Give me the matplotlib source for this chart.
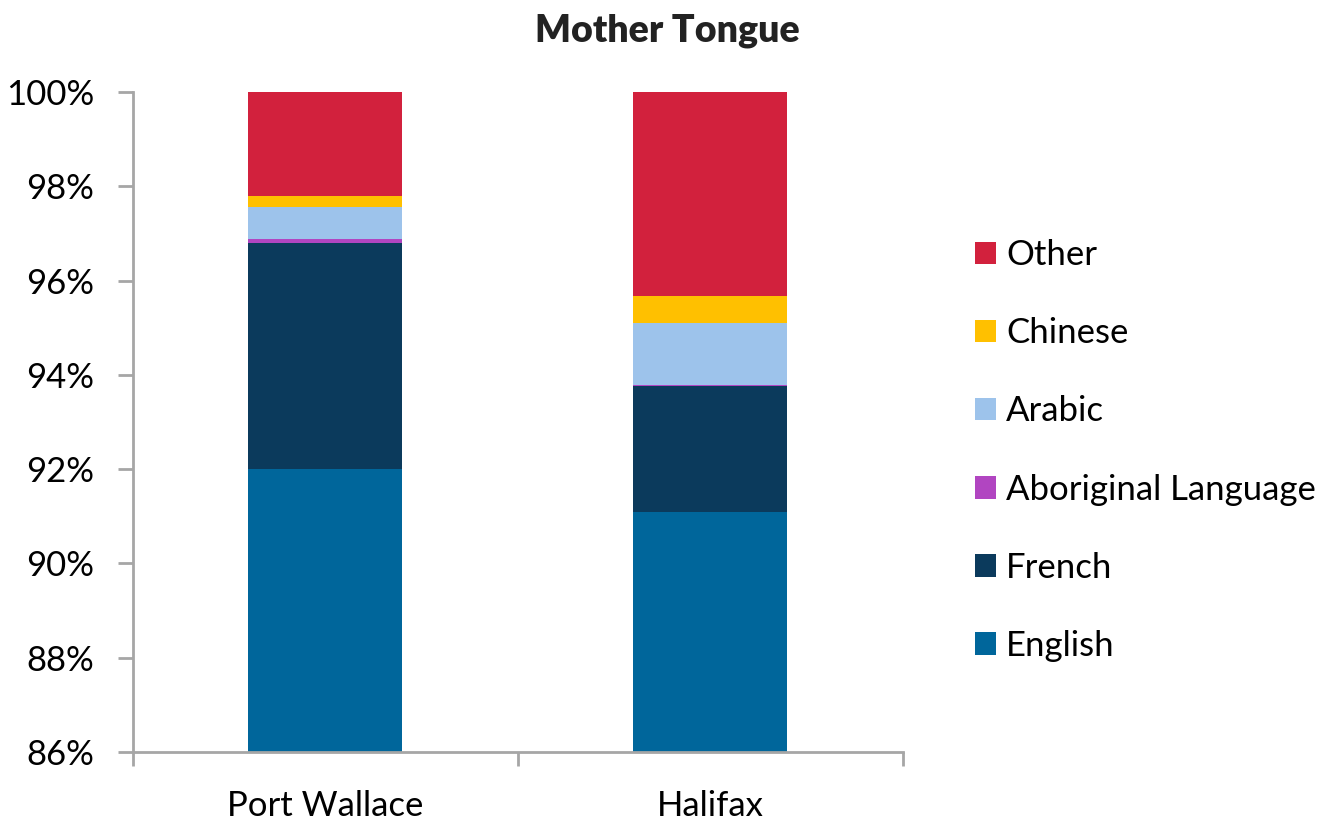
import numpy as np
import matplotlib.pyplot as plt

# data (percent of population)
places = ["Port Wallace", "Halifax"]
languages = ["English", "French", "Aboriginal Language", "Arabic", "Chinese", "Other"]
english = [92.00, 91.09]
french = [4.80, 2.67]
aboriginal = [0.09, 0.02]
arabic = [0.66, 1.31]
chinese = [0.24, 0.58]
other = [2.21, 4.33]
colors = ["#00669B", "#0B3A5C", "#B145C1", "#9DC3EB", "#FFC000", "#D2213D"]

plt.rcParams['font.family'] = ['Lato', 'DejaVu Sans']

fig = plt.figure(figsize=(13.35, 8.19), dpi=100)
ax = fig.add_axes([0.0996, 0.0818, 0.5768, 0.8059])

x = np.arange(len(places))
series = [english, french, aboriginal, arabic, chinese, other]
bottom = np.zeros(len(places))
handles = []
for vals, lab, col in zip(series, languages, colors):
    b = ax.bar(x, vals, 0.40, bottom=bottom, color=col, label=lab, zorder=2)
    handles.append(b)
    bottom = bottom + np.array(vals)

ax.set_xlim(-0.5, 1.5)
ax.set_ylim(86, 100)
ax.set_yticks(np.arange(86, 101, 2))
ax.set_yticklabels([f"{v}%" for v in range(86, 101, 2)])

# category separators as major ticks, labels on minor ticks
ax.set_xticks([-0.5, 0.5, 1.5])
ax.set_xticklabels([])
ax.set_xticks(x, minor=True)
ax.set_xticklabels(places, minor=True)
ax.tick_params(axis='x', which='major', length=10, width=2, color='#A6A6A6', direction='out')
ax.tick_params(axis='x', which='minor', length=0, pad=27, labelsize=25)
ax.tick_params(axis='y', length=11, width=2, color='#A6A6A6', pad=17, labelsize=25)

for s in ['top', 'right']:
    ax.spines[s].set_visible(False)
for s in ['left', 'bottom']:
    ax.spines[s].set_color('#A6A6A6')
    ax.spines[s].set_linewidth(2)

fig.text(0.5, 0.963, "Mother Tongue", ha='center', va='center', fontsize=27,
         fontweight='heavy', color='#222222')

fig.legend(handles[::-1], languages[::-1], loc='center left', bbox_to_anchor=(0.7303, 0.45),
           frameon=False, fontsize=25, handlelength=0.62, handleheight=0.62,
           handletextpad=0.28, labelspacing=1.33, borderpad=0, borderaxespad=0)

fig.savefig("out.png", dpi=100)
